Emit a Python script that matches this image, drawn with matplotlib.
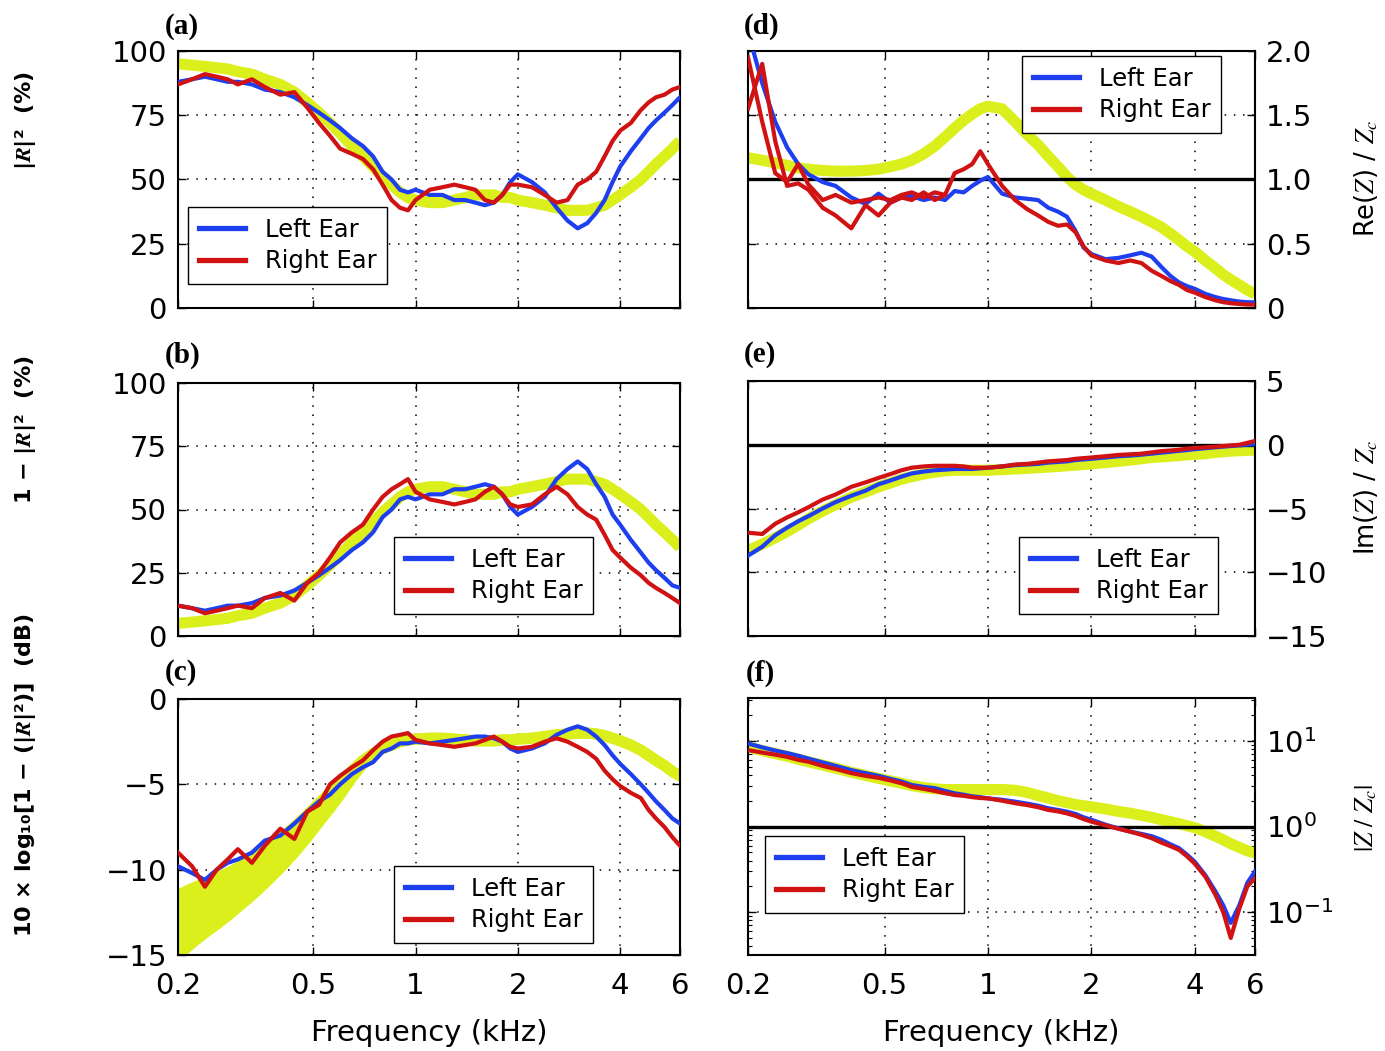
import numpy as np
import matplotlib
matplotlib.use('Agg')
import matplotlib.pyplot as plt
from matplotlib.ticker import FixedLocator, NullLocator, FixedFormatter, LogLocator, NullFormatter

plt.rcParams['font.family'] = ['DejaVu Sans']
plt.rcParams['mathtext.fontset'] = 'stix'

# frequency grid (kHz)
freq = [0.2, 0.22, 0.24, 0.26, 0.28, 0.3, 0.33, 0.36,
        0.4, 0.44, 0.48, 0.52, 0.56, 0.6, 0.65, 0.7,
        0.75, 0.8, 0.85, 0.9, 0.95, 1.0, 1.1, 1.2,
        1.3, 1.4, 1.5, 1.6, 1.7, 1.8, 1.9, 2.0,
        2.2, 2.4, 2.6, 2.8, 3.0, 3.2, 3.4, 3.6,
        3.8, 4.0, 4.3, 4.6, 4.85, 5.1, 5.4, 5.7, 6.0]

xticks = [0.2, 0.5, 1, 2, 4, 6]
xtick_labels = ['0.2', '0.5', '1', '2', '4', '6']

# (a) |R|^2 (%)
a_norm = [95, 94.5, 94, 93.5, 93, 92, 91, 89,
          87, 84, 80, 76, 72, 68, 63, 59,
          55, 51, 48, 45, 43, 42, 41, 41,
          42, 43, 44, 44, 44, 43, 43, 42,
          41, 40, 39, 38, 38, 38, 39, 40,
          42, 44, 47, 50, 53, 56, 59, 62, 65]
a_left = [88, 89, 90, 89, 88, 88, 87, 85,
          84, 82, 79, 76, 73, 70, 66, 63,
          59, 53, 50, 46, 45, 46, 44, 44,
          42, 42, 41, 40, 41, 44, 49, 52,
          49, 45, 39, 34, 31, 33, 37, 42,
          49, 55, 61, 66, 70, 73, 76, 79, 82]
a_right = [87, 89, 91, 90, 89, 87, 89, 86,
           83, 84, 78, 72, 67, 62, 60, 58,
           54, 48, 42, 39, 38, 42, 46, 47,
           48, 47, 46, 42, 41, 44, 48, 48,
           47, 44, 41, 42, 48, 50, 53, 59,
           65, 69, 72, 77, 80, 82, 83, 85, 86]

# (b) 1-|R|^2 (%)
b_norm = [5, 5.5, 6, 6.5, 7, 8, 9, 11,
          13, 16, 20, 24, 28, 32, 37, 41,
          45, 49, 52, 55, 57, 58, 59, 59,
          58, 57, 56, 56, 56, 57, 57, 58,
          59, 60, 61, 62, 62, 62, 61, 60,
          58, 56, 53, 50, 47, 44, 41, 38, 35]
b_left = [12, 11, 10, 11, 12, 12, 13, 15,
          16, 18, 21, 24, 27, 30, 34, 37,
          41, 47, 50, 54, 55, 54, 56, 56,
          58, 58, 59, 60, 59, 56, 51, 48,
          51, 55, 62, 66, 69, 66, 60, 55,
          48, 44, 38, 33, 29, 26, 23, 20, 19]
b_right = [12, 11, 9, 10, 11, 12, 11, 15,
           17, 14, 21, 25, 31, 37, 41, 44,
           50, 55, 58, 60, 62, 57, 54, 53,
           52, 53, 54, 57, 59, 56, 52, 51,
           52, 56, 59, 56, 51, 48, 46, 40,
           34, 31, 27, 24, 21, 19, 17, 15, 13]

# (c) absorbance in dB
c_norm_hi = [-11.5, -11.1, -10.8, -10.5, -10.2, -9.9, -9.4, -8.9,
             -8.2, -7.5, -6.8, -6.1, -5.5, -4.9, -4.2, -3.6,
             -3.2, -2.9, -2.7, -2.5, -2.4, -2.35, -2.3, -2.3,
             -2.35, -2.4, -2.45, -2.45, -2.45, -2.4, -2.4, -2.35,
             -2.3, -2.2, -2.1, -2.05, -2.0, -2.0, -2.05, -2.15,
             -2.3, -2.45, -2.7, -3.0, -3.3, -3.6, -3.9, -4.25, -4.5]
c_norm_lo = [-15.0, -14.3, -13.7, -13.2, -12.7, -12.2, -11.5, -10.8,
             -9.9, -9.0, -8.1, -7.2, -6.4, -5.6, -4.6, -3.8,
             -3.2, -2.9, -2.7, -2.5, -2.4, -2.35, -2.3, -2.3,
             -2.35, -2.4, -2.45, -2.45, -2.45, -2.4, -2.4, -2.35,
             -2.3, -2.2, -2.1, -2.05, -2.0, -2.0, -2.05, -2.15,
             -2.3, -2.45, -2.7, -3.0, -3.3, -3.6, -3.9, -4.25, -4.5]
c_left = [-9.8, -10.2, -10.6, -10.0, -9.6, -9.4, -9.0, -8.3,
          -8.0, -7.3, -6.6, -6.0, -5.6, -5.0, -4.4, -4.0,
          -3.7, -3.1, -2.9, -2.6, -2.6, -2.5, -2.6, -2.5,
          -2.4, -2.3, -2.2, -2.2, -2.3, -2.5, -2.9, -3.1,
          -2.9, -2.6, -2.1, -1.8, -1.6, -1.8, -2.2, -2.7,
          -3.3, -3.8, -4.4, -5.0, -5.5, -6.0, -6.5, -7.0, -7.3]
c_right = [-9.0, -9.8, -11.0, -10.0, -9.4, -8.8, -9.6, -8.6,
           -7.6, -8.2, -6.6, -6.2, -5.0, -4.5, -4.0, -3.6,
           -3.0, -2.5, -2.2, -2.1, -2.0, -2.4, -2.6, -2.7,
           -2.8, -2.7, -2.6, -2.4, -2.2, -2.5, -2.8, -2.9,
           -2.8, -2.5, -2.3, -2.5, -2.8, -3.1, -3.5, -4.2,
           -4.7, -5.1, -5.5, -5.8, -6.5, -7.0, -7.5, -8.1, -8.6]

# (d) Re(Z)/Zc
d_norm = [1.17, 1.15, 1.13, 1.11, 1.09, 1.08, 1.07, 1.065,
          1.065, 1.07, 1.08, 1.10, 1.12, 1.15, 1.20, 1.26,
          1.33, 1.40, 1.46, 1.51, 1.55, 1.57, 1.55, 1.45,
          1.35, 1.27, 1.18, 1.10, 1.02, 0.96, 0.92, 0.89,
          0.84, 0.79, 0.75, 0.71, 0.67, 0.63, 0.58, 0.53,
          0.48, 0.44, 0.37, 0.31, 0.26, 0.22, 0.18, 0.14, 0.11]
d_left = [2.15, 1.75, 1.45, 1.25, 1.12, 1.04, 0.98, 0.95,
          0.86, 0.81, 0.89, 0.82, 0.86, 0.87, 0.84, 0.86,
          0.84, 0.91, 0.90, 0.95, 0.99, 1.02, 0.89, 0.86,
          0.85, 0.84, 0.78, 0.75, 0.71, 0.60, 0.47, 0.42,
          0.38, 0.39, 0.41, 0.43, 0.40, 0.32, 0.25, 0.20,
          0.17, 0.15, 0.11, 0.085, 0.07, 0.06, 0.05, 0.045, 0.044]
d_right = [1.55, 1.9, 1.3, 0.95, 0.97, 0.92, 0.78, 0.72,
           0.62, 0.80, 0.72, 0.82, 0.86, 0.84, 0.90, 0.84,
           0.88, 1.05, 1.08, 1.12, 1.22, 1.12, 0.95, 0.84,
           0.77, 0.72, 0.67, 0.64, 0.65, 0.59, 0.48, 0.41,
           0.37, 0.35, 0.37, 0.35, 0.29, 0.25, 0.21, 0.18,
           0.14, 0.12, 0.085, 0.06, 0.045, 0.037, 0.031, 0.027, 0.026]
# second right-ear trace, low frequencies only (0.2 - 0.75 kHz)
d_right2 = [1.95, 1.45, 1.05, 0.98, 1.12, 0.96, 0.84, 0.88,
            0.82, 0.84, 0.86, 0.84, 0.88, 0.90, 0.86, 0.90,
            0.88]

# (e) Im(Z)/Zc
e_norm = [-8.3, -7.8, -7.3, -6.8, -6.3, -5.8, -5.2, -4.7,
          -4.1, -3.7, -3.3, -3.0, -2.7, -2.5, -2.3, -2.15,
          -2.05, -2.0, -2.0, -2.0, -2.0, -2.0, -1.95, -1.9,
          -1.85, -1.8, -1.75, -1.7, -1.65, -1.6, -1.55, -1.5,
          -1.4, -1.3, -1.2, -1.1, -1.0, -0.95, -0.9, -0.85,
          -0.8, -0.75, -0.7, -0.6, -0.55, -0.5, -0.47, -0.44, -0.42]
e_left = [-8.7, -8.0, -7.1, -6.5, -6.0, -5.6, -5.0, -4.5,
          -4.0, -3.6, -3.1, -2.8, -2.5, -2.25, -2.1, -2.0,
          -1.95, -1.9, -1.9, -1.9, -1.85, -1.8, -1.7, -1.6,
          -1.55, -1.5, -1.4, -1.35, -1.3, -1.2, -1.15, -1.1,
          -1.0, -0.9, -0.85, -0.78, -0.7, -0.62, -0.55, -0.48,
          -0.42, -0.35, -0.27, -0.2, -0.15, -0.1, -0.05, 0.0, 0.05]
e_right = [-6.9, -7.0, -6.2, -5.7, -5.3, -4.9, -4.3, -3.9,
           -3.3, -2.95, -2.6, -2.3, -2.0, -1.8, -1.7, -1.65,
           -1.65, -1.65, -1.7, -1.8, -1.8, -1.8, -1.7, -1.55,
           -1.5, -1.4, -1.3, -1.25, -1.2, -1.1, -1.05, -1.0,
           -0.9, -0.8, -0.75, -0.7, -0.6, -0.5, -0.45, -0.4,
           -0.3, -0.25, -0.2, -0.15, -0.1, -0.05, 0.0, 0.15, 0.3]

# (f) |Z/Zc|
f_norm = [8.5, 7.7, 7.1, 6.6, 6.1, 5.7, 5.2, 4.8,
          4.3, 3.95, 3.65, 3.4, 3.2, 3.0, 2.85, 2.75,
          2.7, 2.7, 2.7, 2.7, 2.7, 2.7, 2.7, 2.65,
          2.5, 2.3, 2.15, 2.0, 1.9, 1.8, 1.75, 1.7,
          1.6, 1.5, 1.43, 1.35, 1.28, 1.2, 1.14, 1.08,
          1.02, 0.97, 0.87, 0.77, 0.7, 0.63, 0.57, 0.52, 0.49]
f_left = [9.3, 8.4, 7.7, 7.2, 6.7, 6.2, 5.6, 5.1,
          4.55, 4.2, 3.9, 3.6, 3.35, 3.05, 2.9, 2.8,
          2.6, 2.44, 2.35, 2.25, 2.2, 2.13, 2.05, 1.95,
          1.85, 1.75, 1.63, 1.56, 1.49, 1.4, 1.28, 1.2,
          1.05, 0.95, 0.87, 0.82, 0.77, 0.7, 0.62, 0.56,
          0.47, 0.39, 0.27, 0.175, 0.12, 0.075, 0.12, 0.22, 0.30]
f_right = [7.8, 7.3, 6.9, 6.5, 6.0, 5.7, 5.1, 4.7,
           4.2, 3.9, 3.7, 3.45, 3.2, 2.9, 2.75, 2.6,
           2.45, 2.33, 2.28, 2.2, 2.15, 2.13, 2.0, 1.87,
           1.78, 1.68, 1.56, 1.5, 1.42, 1.33, 1.22, 1.14,
           1.03, 0.94, 0.87, 0.8, 0.73, 0.65, 0.59, 0.535,
           0.45, 0.37, 0.26, 0.16, 0.1, 0.05, 0.11, 0.2, 0.25]

YELLOW = '#dbef1c'
BLUE = '#1e3ff0'
RED = '#d01212'

W, H = 1385, 1051
fig = plt.figure(figsize=(W / 100, H / 100), dpi=100)


def px_axes(x0, y0, x1, y1):
    return fig.add_axes([x0 / W, 1 - y1 / H, (x1 - x0) / W, (y1 - y0) / H])


def style(ax, yticks, ylabels, right=False, bottom=False):
    ax.set_xscale('log')
    ax.set_xlim(0.2, 6)
    ax.xaxis.set_major_locator(FixedLocator(xticks))
    ax.xaxis.set_minor_locator(NullLocator())
    ax.xaxis.set_major_formatter(FixedFormatter(xtick_labels))
    if yticks is not None:
        ax.yaxis.set_major_locator(FixedLocator(yticks))
        ax.yaxis.set_major_formatter(FixedFormatter(ylabels))
    ax.grid(True, which='major', color='k', linestyle=(0, (1, 5)), linewidth=1.1)
    ax.tick_params(which='major', direction='in', length=6, width=1, top=True, right=True,
                   labelsize=21, pad=8, labelbottom=bottom)
    ax.tick_params(axis='x', which='major', pad=12)
    if right:
        ax.tick_params(labelleft=False, labelright=True)
    for s in ax.spines.values():
        s.set_linewidth(1.5)


def curves(ax, norm, left, right):
    ax.plot(freq, norm, color=YELLOW, lw=8, solid_capstyle='butt', zorder=2)
    hb, = ax.plot(freq, left, color=BLUE, lw=3.0, zorder=4)
    hr, = ax.plot(freq, right, color=RED, lw=3.0, zorder=5)
    return hb, hr


def add_legend(ax, hb, hr, x, y):
    leg = ax.legend([hb, hr], ['Left Ear', 'Right Ear'], loc='upper left',
                    bbox_to_anchor=(x / W, 1 - y / H), bbox_transform=fig.transFigure,
                    borderaxespad=0, fancybox=False, edgecolor='k', framealpha=1,
                    fontsize=17.5, handlelength=1.9, handletextpad=0.8,
                    borderpad=0.45, labelspacing=0.3)
    leg.get_frame().set_linewidth(1.0)
    for h in leg.legend_handles:
        h.set_linewidth(3.8)
    leg.set_zorder(10)


ax_a = px_axes(178, 51, 680, 308)
ax_b = px_axes(178, 383, 680, 636)
ax_c = px_axes(178, 699, 680, 955)
ax_d = px_axes(748, 51, 1255, 308)
ax_e = px_axes(748, 381, 1255, 636)
ax_f = px_axes(748, 698, 1255, 955)

# (a)
hb, hr = curves(ax_a, a_norm, a_left, a_right)
ax_a.set_ylim(0, 100)
style(ax_a, [0, 25, 50, 75, 100], ['0', '25', '50', '75', '100'])
add_legend(ax_a, hb, hr, 188, 207)

# (b)
hb, hr = curves(ax_b, b_norm, b_left, b_right)
ax_b.set_ylim(0, 100)
style(ax_b, [0, 25, 50, 75, 100], ['0', '25', '50', '75', '100'])
add_legend(ax_b, hb, hr, 394, 537)

# (c)
ax_c.fill_between(freq, c_norm_lo, c_norm_hi, color=YELLOW, lw=0, zorder=2)
ax_c.plot(freq, c_norm_lo, color=YELLOW, lw=8, zorder=2)
hb, hr = curves(ax_c, c_norm_hi, c_left, c_right)
ax_c.set_ylim(-15, 0)
style(ax_c, [-15, -10, -5, 0], ['\u221215', '\u221210', '\u22125', '0'], bottom=True)
add_legend(ax_c, hb, hr, 394, 866)
ax_c.set_xlabel('Frequency (kHz)', fontsize=21, labelpad=14)

# (d)
ax_d.axhline(1.0, color='k', lw=2.4, zorder=3)
hb, hr = curves(ax_d, d_norm, d_left, d_right)
ax_d.plot(freq[:len(d_right2)], d_right2, color=RED, lw=3.0, zorder=5)
ax_d.set_ylim(0, 2)
style(ax_d, [0, 0.5, 1.0, 1.5, 2.0], ['0', '0.5', '1.0', '1.5', '2.0'], right=True)
add_legend(ax_d, hb, hr, 1022, 56)

# (e)
ax_e.axhline(0, color='k', lw=2.4, zorder=3)
hb, hr = curves(ax_e, e_norm, e_left, e_right)
ax_e.set_ylim(-15, 5)
style(ax_e, [-15, -10, -5, 0, 5], ['\u221215', '\u221210', '\u22125', '0', '5'], right=True)
add_legend(ax_e, hb, hr, 1019, 537)

# (f)
ax_f.axhline(1.0, color='k', lw=2.4, zorder=3)
hb, hr = curves(ax_f, f_norm, f_left, f_right)
ax_f.set_yscale('log')
ax_f.set_ylim(10 ** -1.5, 10 ** 1.5)
style(ax_f, None, None, right=True, bottom=True)
ax_f.yaxis.set_major_locator(LogLocator(base=10, numticks=10))
ax_f.yaxis.set_minor_locator(LogLocator(base=10, subs=np.arange(2, 10), numticks=10))
ax_f.yaxis.set_minor_formatter(NullFormatter())
ax_f.tick_params(which='minor', direction='in', length=3, width=0.8, left=True, right=True)
add_legend(ax_f, hb, hr, 765, 836)
ax_f.set_xlabel('Frequency (kHz)', fontsize=21, labelpad=14)

# panel letters
for lab, x, y in [('(a)', 165, 26), ('(b)', 165, 355), ('(c)', 165, 673),
                  ('(d)', 744, 26), ('(e)', 744, 355), ('(f)', 746, 673)]:
    fig.text(x / W, 1 - y / H, lab, family='Liberation Serif', fontweight='bold',
             fontsize=21, ha='left', va='center')

# left y labels
left_labels = [('|$\\mathbfit{R}$|\u00b2  (%)', 120),
               ('1 \u2212 |$\\mathbfit{R}$|\u00b2  (%)', 430),
               ('10 \u00d7 log\u2081\u2080[1 \u2212 (|$\\mathbfit{R}$|\u00b2)]  (dB)', 775)]
for txt, y in left_labels:
    fig.text(26 / W, 1 - y / H, txt, rotation=90, fontweight='bold', fontsize=16,
             ha='center', va='center')

# right y labels
right_labels = [('Re($\\mathit{Z}$) / $\\mathit{Z}_c$', 178),
                ('Im($\\mathit{Z}$) / $\\mathit{Z}_c$', 497),
                ('$|Z\\ /\\ Z_c|$', 818)]
for txt, y in right_labels:
    fig.text(1366 / W, 1 - y / H, txt, rotation=90, fontsize=18.5,
             ha='center', va='center')

fig.savefig('out.png', dpi=100)
